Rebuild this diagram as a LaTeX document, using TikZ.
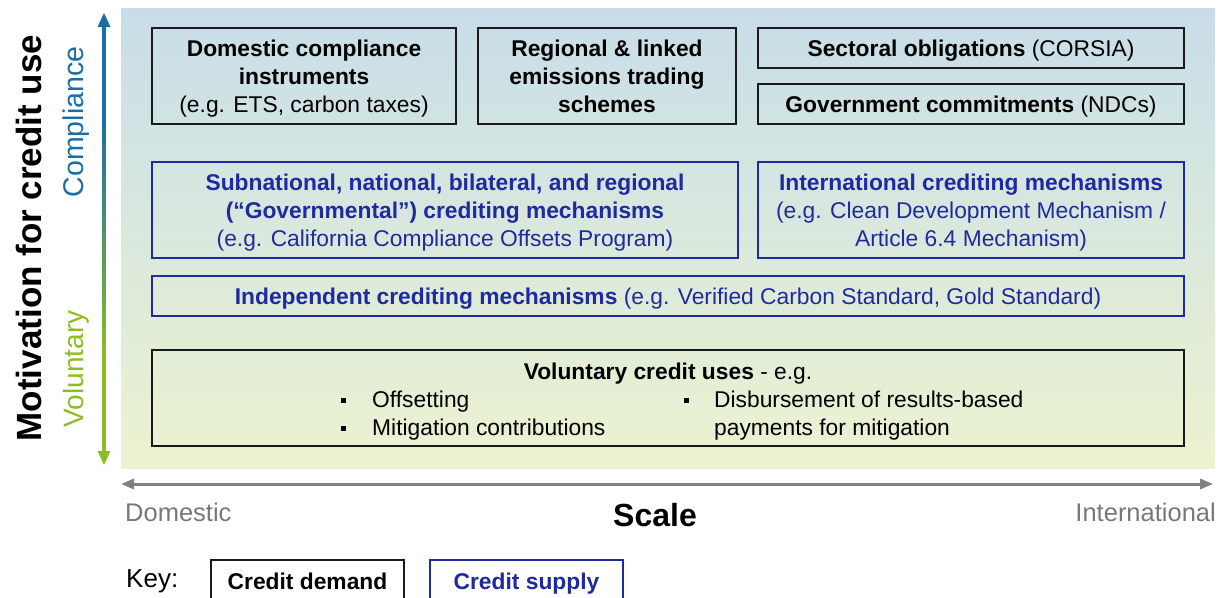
\documentclass[tikz,border=0pt]{standalone}
\usepackage{fontspec}
\setmainfont{Liberation Sans}
\usetikzlibrary{arrows.meta}
\definecolor{bgtop}{RGB}{200,221,233}
\definecolor{bgbot}{RGB}{236,243,208}
\definecolor{ablue}{RGB}{26,110,166}
\definecolor{agreen}{RGB}{140,190,35}
\definecolor{supc}{RGB}{32,42,160}
\definecolor{demc}{RGB}{25,25,25}
\definecolor{axgray}{RGB}{128,128,128}
\definecolor{lblgray}{RGB}{120,120,120}
\pgfdeclareverticalshading{vgrad}{100bp}{color(0bp)=(agreen); color(36bp)=(agreen); color(64bp)=(ablue); color(100bp)=(ablue)}
\newcommand\bxfont{\fontsize{22.8}{28}\selectfont}
\begin{document}
\begin{tikzpicture}[x=1pt,y=-1pt,
  demandbox/.style={draw=demc, line width=2.6pt, inner sep=0pt, align=center, font=\bxfont, text=black, text depth=0pt},
  supplybox/.style={draw=supc, line width=2.6pt, inner sep=0pt, align=center, font=\bxfont, text=supc, text depth=0pt},
  plain/.style={inner sep=0pt, font=\bxfont},
  bul/.style={fill=black, minimum size=5pt, inner sep=0pt}]
\useasboundingbox (0,0) rectangle (1222,597);
\fill[white] (0,0) rectangle (1222,597);
% background
\shade[top color=bgtop, bottom color=bgbot] (121,8) rectangle (1215,468);

% vertical axis
\coordinate (vtop) at (104,13);
\coordinate (vbot) at (104,465);
\shade[shading=vgrad] (102.4,24) rectangle (105.6,454);
\fill[ablue] (vtop) -- ++(-6.5,14) -- ++(13,0) -- cycle;
\fill[agreen] (vbot) -- ++(-6.5,-14) -- ++(13,0) -- cycle;

\node[rotate=90, font=\fontsize{35}{40}\selectfont\bfseries, inner sep=0pt] (title) at (29,238) {Motivation for credit use};
\node[rotate=90, font=\fontsize{28.5}{32}\selectfont, text=ablue, inner sep=0pt] (compl) at (76,122) {Compliance};
\node[rotate=90, font=\fontsize{28}{32}\selectfont, text=agreen, inner sep=0pt] (volun) at (76,369) {Voluntary};

% horizontal axis
\coordinate (hl) at (121,484);
\coordinate (hr) at (1213,484);
\draw[axgray, line width=3pt, {Triangle[length=13pt,width=10pt]}-{Triangle[length=13pt,width=10pt]}] (hl) -- (hr);
\node[font=\fontsize{25.5}{30}\selectfont, text=lblgray, inner sep=0pt, anchor=west] (dom) at (125,512) {Domestic};
\node[font=\fontsize{25.5}{30}\selectfont, text=lblgray, inner sep=0pt, anchor=east] (intl) at (1216,512) {International};
\node[font=\fontsize{32}{36}\selectfont\bfseries, inner sep=0pt] (scale) at (655,515) {Scale};

% boxes
\node[demandbox, minimum width=304, minimum height=96] (b1) at (304,76)
  {\textbf{Domestic compliance}\\\textbf{instruments}\\(e.g. ETS, carbon taxes)};
\node[demandbox, minimum width=258, minimum height=96] (b2) at (607,76)
  {\textbf{Regional \& linked}\\\textbf{emissions trading}\\\textbf{schemes}};
\node[demandbox, minimum width=426, minimum height=40] (b3) at (971,48)
  {\textbf{Sectoral obligations} (CORSIA)};
\node[demandbox, minimum width=426, minimum height=40] (b4) at (971,104)
  {\textbf{Government commitments} (NDCs)};
\node[supplybox, minimum width=586, minimum height=96] (b5) at (445,210)
  {\textbf{Subnational, national, bilateral, and regional}\\\textbf{(“Governmental”) crediting mechanisms}\\(e.g. California Compliance Offsets Program)};
\node[supplybox, minimum width=426, minimum height=96] (b6) at (971,210)
  {\textbf{International crediting mechanisms}\\(e.g. Clean Development Mechanism /\\Article 6.4 Mechanism)};
\node[supplybox, minimum width=1032, minimum height=40] (b7) at (668,296)
  {\textbf{Independent crediting mechanisms} (e.g. Verified Carbon Standard, Gold Standard)};
\node[demandbox, minimum width=1032, minimum height=96] (b8) at (668,398) {};
\node[plain, anchor=base] (vt) at (668,379) {\textbf{Voluntary credit uses} - e.g.};
\node[plain, anchor=base west] (o1) at (372,407) {Offsetting};
\node[plain, anchor=base west] (o2) at (372,435) {Mitigation contributions};
\node[plain, anchor=base west] (o3) at (714,407) {Disbursement of results-based};
\node[plain, anchor=base west] (o4) at (714,435) {payments for mitigation};
\node[bul] (p1) at (343,400) {};
\node[bul] (p2) at (343,428) {};
\node[bul] (p3) at (686,400) {};

% key
\node[font=\fontsize{26}{30}\selectfont, inner sep=0pt, anchor=base west] (key) at (126,587) {Key:};
\node[demandbox, fill=white, minimum width=193, minimum height=42] (kd) at (307.5,581) {\textbf{Credit demand}};
\node[supplybox, fill=white, minimum width=193, minimum height=42] (ks) at (526.5,581) {\textbf{Credit supply}};
\end{tikzpicture}
\end{document}
